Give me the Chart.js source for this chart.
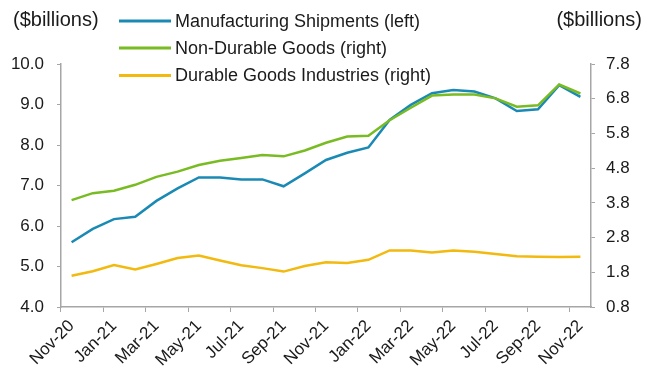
<!DOCTYPE html>
<html>
<head>
<meta charset="utf-8">
<script src="https://cdn.jsdelivr.net/npm/chart.js@4"></script>
<style>
  html, body { margin: 0; padding: 0; background: #fff; }
  #wrap { width: 653px; height: 370px; position: relative; }
</style>
</head>
<body>
<div id="wrap"><canvas id="chart" width="653" height="370"></canvas></div>
<script>
// data
const months = ["Nov-20","Dec-20","Jan-21","Feb-21","Mar-21","Apr-21","May-21","Jun-21","Jul-21","Aug-21","Sep-21","Oct-21",
  "Nov-21","Dec-21","Jan-22","Feb-22","Mar-22","Apr-22","May-22","Jun-22","Jul-22","Aug-22","Sep-22","Oct-22","Nov-22"];
const shipments = [5.60,5.93,6.17,6.23,6.62,6.93,7.20,7.20,7.15,7.15,6.98,7.30,
  7.63,7.81,7.94,8.62,8.99,9.28,9.36,9.32,9.15,8.84,8.88,9.48,9.19];
const nonDurable = [3.88,4.08,4.15,4.32,4.55,4.70,4.89,5.01,5.09,5.18,5.14,5.31,
  5.53,5.71,5.73,6.18,6.54,6.89,6.92,6.92,6.81,6.57,6.61,7.21,6.95];
const durable = [1.70,1.83,2.01,1.88,2.04,2.21,2.28,2.14,2.00,1.92,1.82,1.98,
  2.09,2.07,2.16,2.43,2.43,2.37,2.43,2.39,2.33,2.26,2.25,2.24,2.25];
const leftTicks = [4.0,5.0,6.0,7.0,8.0,9.0,10.0];
const rightTicks = [0.8,1.8,2.8,3.8,4.8,5.8,6.8,7.8];

const FONT = "'Liberation Sans', Arial, sans-serif";
const AXIS = "#a6a6a6";

// legend + unit labels
const legendPlugin = {
  id: "customLegend",
  afterDraw: (chart) => {
    const ctx = chart.ctx;
    ctx.save();
    ctx.fillStyle = "#1a1a1a";
    ctx.textBaseline = "middle";
    ctx.font = "20px " + FONT;
    ctx.textAlign = "left";
    ctx.fillText("($billions)", 13, 20);
    ctx.textAlign = "right";
    ctx.fillText("($billions)", 642, 20);

    ctx.font = "18px " + FONT;
    ctx.textAlign = "left";
    const rows = [21, 48, 75.5];
    chart.data.datasets.forEach((ds, i) => {
      ctx.strokeStyle = ds.borderColor;
      ctx.lineWidth = 3;
      ctx.beginPath();
      ctx.moveTo(119, rows[i]);
      ctx.lineTo(171, rows[i]);
      ctx.stroke();
      ctx.fillStyle = "#1a1a1a";
      ctx.fillText(ds.label, 175, rows[i] + 1);
    });
    ctx.restore();
  }
};

new Chart(document.getElementById("chart"), {
  type: "line",
  data: {
    labels: months,
    datasets: [
      { label: "Manufacturing Shipments (left)", data: shipments, yAxisID: "y",
        borderColor: "#1a8ab5", borderWidth: 2.5, pointRadius: 0, tension: 0, order: 2 },
      { label: "Non-Durable Goods (right)", data: nonDurable, yAxisID: "y1",
        borderColor: "#79bb22", borderWidth: 2.5, pointRadius: 0, tension: 0, order: 0 },
      { label: "Durable Goods Industries (right)", data: durable, yAxisID: "y1",
        borderColor: "#f2b90f", borderWidth: 2.5, pointRadius: 0, tension: 0, order: 1 }
    ]
  },
  options: {
    responsive: false,
    animation: false,
    layout: { padding: { top: 64, left: 0, right: 0, bottom: 0 } },
    plugins: { legend: { display: false }, tooltip: { enabled: false } },
    scales: {
      x: {
        offset: true,
        afterFit: (s) => { s.height = 63; },
        grid: {
          offset: true,
          drawOnChartArea: false,
          tickLength: 5,
          color: (c) => (c.index % 2 === 0 ? AXIS : "rgba(0,0,0,0)")
        },
        border: { color: AXIS, width: 1.5 },
        ticks: {
          autoSkip: false,
          minRotation: 45,
          maxRotation: 45,
          padding: 4,
          color: "#1a1a1a",
          font: { family: FONT, size: 17 },
          callback: function (v, i) { return i % 2 === 0 ? this.getLabelForValue(v) : ""; }
        }
      },
      y: {
        position: "left",
        min: 4, max: 10,
        afterFit: (s) => { s.width = 61; },
        afterBuildTicks: (s) => { s.ticks = leftTicks.map(v => ({ value: v })); },
        grid: { drawOnChartArea: false, tickLength: 4, color: AXIS },
        border: { color: AXIS, width: 1.5 },
        ticks: {
          padding: 13,
          color: "#1a1a1a",
          font: { family: FONT, size: 17 },
          callback: (v) => v.toFixed(1)
        }
      },
      y1: {
        position: "right",
        min: 0.8, max: 7.8,
        afterFit: (s) => { s.width = 62; },
        afterBuildTicks: (s) => { s.ticks = rightTicks.map(v => ({ value: v })); },
        grid: { drawOnChartArea: false, tickLength: 4, color: AXIS },
        border: { color: AXIS, width: 1.5 },
        ticks: {
          padding: 11,
          color: "#1a1a1a",
          font: { family: FONT, size: 17 },
          callback: (v) => v.toFixed(1)
        }
      }
    }
  },
  plugins: [legendPlugin]
});
</script>
</body>
</html>
